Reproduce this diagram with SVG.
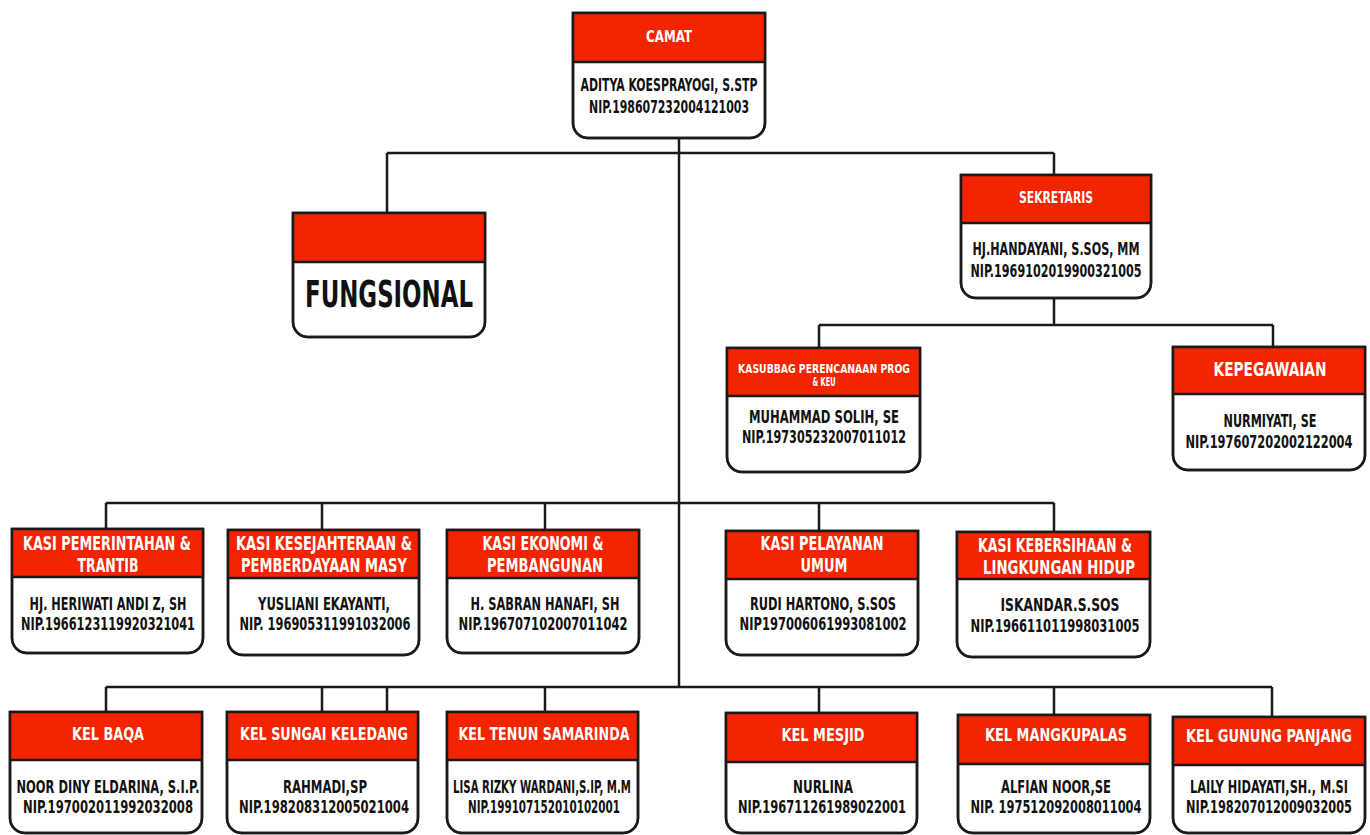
<svg xmlns="http://www.w3.org/2000/svg" width="1370" height="835" viewBox="0 0 1370 835">
<style>
.box{fill:#fff;stroke:#1a1a1a;stroke-width:2.5}
.out{fill:none;stroke:#1a1a1a;stroke-width:2.5}
.hdr{fill:#f42300}
.sep{stroke:#1a1a1a;stroke-width:2.5}
.con{fill:none;stroke:#1a1a1a;stroke-width:2.5}
text{font-family:'Liberation Sans Narrow','DejaVu Sans Condensed','Liberation Sans',sans-serif;font-weight:bold;text-anchor:middle}
.ht{fill:#fff}
.bt{fill:#111;font-size:17px}
</style>
<rect width="1370" height="835" fill="#fff"/>
<g id="connectors">
<path class="con" d="M679 138V687"/>
<path class="con" d="M387 153H1054M387 153V213M1054 153V175"/>
<path class="con" d="M1054 298V325M819 325H1273M819 325V348M1273 325V347"/>
<path class="con" d="M106 503H1054M106 503V529M322 503V530M545 503V530M819 503V531M1054 503V532"/>
<path class="con" d="M106 687H1272M106 687V712M322 687V712M387 687V712M545 687V712M819 687V713M1054 687V715M1272 687V717"/>
</g>
<g id="camat">
<path class="box" d="M573 13H765V123A15 15 0 0 1 750 138H588A15 15 0 0 1 573 123Z"/>
<rect class="hdr" x="573" y="13" width="192" height="49"/>
<path class="out" d="M573 13H765V123A15 15 0 0 1 750 138H588A15 15 0 0 1 573 123Z"/>
<line class="sep" x1="573" y1="62" x2="765" y2="62"/>
<text class="ht" x="669" y="42" font-size="15" textLength="46" lengthAdjust="spacingAndGlyphs">CAMAT</text>
<text class="bt" x="669" y="91" textLength="177" lengthAdjust="spacingAndGlyphs">ADITYA KOESPRAYOGI, S.STP</text>
<text class="bt" x="669" y="113" textLength="160" lengthAdjust="spacingAndGlyphs">NIP.198607232004121003</text>
</g>
<g id="fungsional">
<path class="box" d="M293 213H485V322A15 15 0 0 1 470 337H308A15 15 0 0 1 293 322Z"/>
<rect class="hdr" x="293" y="213" width="192" height="49"/>
<path class="out" d="M293 213H485V322A15 15 0 0 1 470 337H308A15 15 0 0 1 293 322Z"/>
<line class="sep" x1="293" y1="262" x2="485" y2="262"/>
<text x="389" y="307" fill="#111" font-size="38" textLength="168" lengthAdjust="spacingAndGlyphs">FUNGSIONAL</text>
</g>
<g id="sekretaris">
<path class="box" d="M961 175H1151V283A15 15 0 0 1 1136 298H976A15 15 0 0 1 961 283Z"/>
<rect class="hdr" x="961" y="175" width="190" height="48"/>
<path class="out" d="M961 175H1151V283A15 15 0 0 1 1136 298H976A15 15 0 0 1 961 283Z"/>
<line class="sep" x1="961" y1="223" x2="1151" y2="223"/>
<text class="ht" x="1056" y="203" font-size="15" textLength="74" lengthAdjust="spacingAndGlyphs">SEKRETARIS</text>
<text class="bt" x="1056" y="255" textLength="167" lengthAdjust="spacingAndGlyphs">HJ.HANDAYANI, S.SOS, MM</text>
<text class="bt" x="1056" y="277" textLength="171" lengthAdjust="spacingAndGlyphs">NIP.1969102019900321005</text>
</g>
<g id="kasubbag">
<path class="box" d="M727 348H920V457A15 15 0 0 1 905 472H742A15 15 0 0 1 727 457Z"/>
<rect class="hdr" x="727" y="348" width="193" height="48"/>
<path class="out" d="M727 348H920V457A15 15 0 0 1 905 472H742A15 15 0 0 1 727 457Z"/>
<line class="sep" x1="727" y1="396" x2="920" y2="396"/>
<text class="ht" x="824" y="373" font-size="12" textLength="172" lengthAdjust="spacingAndGlyphs">KASUBBAG PERENCANAAN PROG</text>
<text class="ht" x="824" y="386" font-size="12" textLength="23" lengthAdjust="spacingAndGlyphs">&amp; KEU</text>
<text class="bt" x="824" y="423" textLength="150" lengthAdjust="spacingAndGlyphs">MUHAMMAD SOLIH, SE</text>
<text class="bt" x="824" y="443" textLength="164" lengthAdjust="spacingAndGlyphs">NIP.197305232007011012</text>
</g>
<g id="kepegawaian">
<path class="box" d="M1173 347H1365V455A15 15 0 0 1 1350 470H1188A15 15 0 0 1 1173 455Z"/>
<rect class="hdr" x="1173" y="347" width="192" height="47"/>
<path class="out" d="M1173 347H1365V455A15 15 0 0 1 1350 470H1188A15 15 0 0 1 1173 455Z"/>
<line class="sep" x1="1173" y1="394" x2="1365" y2="394"/>
<text class="ht" x="1270" y="376" font-size="19" textLength="113" lengthAdjust="spacingAndGlyphs">KEPEGAWAIAN</text>
<text class="bt" x="1270" y="427" textLength="93" lengthAdjust="spacingAndGlyphs">NURMIYATI, SE</text>
<text class="bt" x="1269" y="448" textLength="167" lengthAdjust="spacingAndGlyphs">NIP.197607202002122004</text>
</g>
<g id="kasi-pemerintahan">
<path class="box" d="M12 529H203V638A15 15 0 0 1 188 653H27A15 15 0 0 1 12 638Z"/>
<rect class="hdr" x="12" y="529" width="191" height="48"/>
<path class="out" d="M12 529H203V638A15 15 0 0 1 188 653H27A15 15 0 0 1 12 638Z"/>
<line class="sep" x1="12" y1="577" x2="203" y2="577"/>
<text class="ht" x="107" y="550" font-size="19" textLength="168" lengthAdjust="spacingAndGlyphs">KASI PEMERINTAHAN &amp;</text>
<text class="ht" x="108" y="572" font-size="19" textLength="61" lengthAdjust="spacingAndGlyphs">TRANTIB</text>
<text class="bt" x="108" y="610" textLength="157" lengthAdjust="spacingAndGlyphs">HJ. HERIWATI ANDI Z, SH</text>
<text class="bt" x="108" y="630" textLength="174" lengthAdjust="spacingAndGlyphs">NIP.1966123119920321041</text>
</g>
<g id="kasi-kesejahteraan">
<path class="box" d="M228 530H419V640A15 15 0 0 1 404 655H243A15 15 0 0 1 228 640Z"/>
<rect class="hdr" x="228" y="530" width="191" height="48"/>
<path class="out" d="M228 530H419V640A15 15 0 0 1 404 655H243A15 15 0 0 1 228 640Z"/>
<line class="sep" x1="228" y1="578" x2="419" y2="578"/>
<text class="ht" x="324" y="550" font-size="19" textLength="176" lengthAdjust="spacingAndGlyphs">KASI KESEJAHTERAAN &amp;</text>
<text class="ht" x="324" y="572" font-size="19" textLength="166" lengthAdjust="spacingAndGlyphs">PEMBERDAYAAN MASY</text>
<text class="bt" x="324" y="610" textLength="132" lengthAdjust="spacingAndGlyphs">YUSLIANI EKAYANTI,</text>
<text class="bt" x="325" y="630" textLength="171" lengthAdjust="spacingAndGlyphs">NIP. 196905311991032006</text>
</g>
<g id="kasi-ekonomi">
<path class="box" d="M447 530H639V638A15 15 0 0 1 624 653H462A15 15 0 0 1 447 638Z"/>
<rect class="hdr" x="447" y="530" width="192" height="48"/>
<path class="out" d="M447 530H639V638A15 15 0 0 1 624 653H462A15 15 0 0 1 447 638Z"/>
<line class="sep" x1="447" y1="578" x2="639" y2="578"/>
<text class="ht" x="543" y="550" font-size="19" textLength="121" lengthAdjust="spacingAndGlyphs">KASI EKONOMI &amp;</text>
<text class="ht" x="545" y="572" font-size="19" textLength="116" lengthAdjust="spacingAndGlyphs">PEMBANGUNAN</text>
<text class="bt" x="545" y="610" textLength="149" lengthAdjust="spacingAndGlyphs">H. SABRAN HANAFI, SH</text>
<text class="bt" x="543" y="630" textLength="169" lengthAdjust="spacingAndGlyphs">NIP.196707102007011042</text>
</g>
<g id="kasi-pelayanan">
<path class="box" d="M726 531H918V640A15 15 0 0 1 903 655H741A15 15 0 0 1 726 640Z"/>
<rect class="hdr" x="726" y="531" width="192" height="48"/>
<path class="out" d="M726 531H918V640A15 15 0 0 1 903 655H741A15 15 0 0 1 726 640Z"/>
<line class="sep" x1="726" y1="579" x2="918" y2="579"/>
<text class="ht" x="822" y="550" font-size="19" textLength="123" lengthAdjust="spacingAndGlyphs">KASI PELAYANAN</text>
<text class="ht" x="824" y="572" font-size="19" textLength="47" lengthAdjust="spacingAndGlyphs">UMUM</text>
<text class="bt" x="823" y="610" textLength="146" lengthAdjust="spacingAndGlyphs">RUDI HARTONO, S.SOS</text>
<text class="bt" x="823" y="630" textLength="167" lengthAdjust="spacingAndGlyphs">NIP197006061993081002</text>
</g>
<g id="kasi-kebersihaan">
<path class="box" d="M957 532H1150V642A15 15 0 0 1 1135 657H972A15 15 0 0 1 957 642Z"/>
<rect class="hdr" x="957" y="532" width="193" height="47"/>
<path class="out" d="M957 532H1150V642A15 15 0 0 1 1135 657H972A15 15 0 0 1 957 642Z"/>
<line class="sep" x1="957" y1="579" x2="1150" y2="579"/>
<text class="ht" x="1055" y="552" font-size="19" textLength="154" lengthAdjust="spacingAndGlyphs">KASI KEBERSIHAAN &amp;</text>
<text class="ht" x="1059" y="574" font-size="19" textLength="152" lengthAdjust="spacingAndGlyphs">LINGKUNGAN HIDUP</text>
<text class="bt" x="1060" y="611" textLength="119" lengthAdjust="spacingAndGlyphs">ISKANDAR.S.SOS</text>
<text class="bt" x="1055" y="632" textLength="169" lengthAdjust="spacingAndGlyphs">NIP.196611011998031005</text>
</g>
<g id="kel-baqa">
<path class="box" d="M10 712H202V818A15 15 0 0 1 187 833H25A15 15 0 0 1 10 818Z"/>
<rect class="hdr" x="10" y="712" width="192" height="48"/>
<path class="out" d="M10 712H202V818A15 15 0 0 1 187 833H25A15 15 0 0 1 10 818Z"/>
<line class="sep" x1="10" y1="760" x2="202" y2="760"/>
<text class="ht" x="108" y="740" font-size="18" textLength="72" lengthAdjust="spacingAndGlyphs">KEL BAQA</text>
<text class="bt" x="108" y="793" textLength="183" lengthAdjust="spacingAndGlyphs">NOOR DINY ELDARINA, S.I.P.</text>
<text class="bt" x="108" y="813" textLength="170" lengthAdjust="spacingAndGlyphs">NIP.197002011992032008</text>
</g>
<g id="kel-sungai-keledang">
<path class="box" d="M227 712H418V818A15 15 0 0 1 403 833H242A15 15 0 0 1 227 818Z"/>
<rect class="hdr" x="227" y="712" width="191" height="48"/>
<path class="out" d="M227 712H418V818A15 15 0 0 1 403 833H242A15 15 0 0 1 227 818Z"/>
<line class="sep" x1="227" y1="760" x2="418" y2="760"/>
<text class="ht" x="324" y="740" font-size="18" textLength="168" lengthAdjust="spacingAndGlyphs">KEL SUNGAI KELEDANG</text>
<text class="bt" x="325" y="793" textLength="84" lengthAdjust="spacingAndGlyphs">RAHMADI,SP</text>
<text class="bt" x="324" y="813" textLength="170" lengthAdjust="spacingAndGlyphs">NIP.198208312005021004</text>
</g>
<g id="kel-tenun-samarinda">
<path class="box" d="M447 712H638V818A15 15 0 0 1 623 833H462A15 15 0 0 1 447 818Z"/>
<rect class="hdr" x="447" y="712" width="191" height="48"/>
<path class="out" d="M447 712H638V818A15 15 0 0 1 623 833H462A15 15 0 0 1 447 818Z"/>
<line class="sep" x1="447" y1="760" x2="638" y2="760"/>
<text class="ht" x="544" y="740" font-size="18" textLength="171" lengthAdjust="spacingAndGlyphs">KEL TENUN SAMARINDA</text>
<text class="bt" x="542" y="793" textLength="178" lengthAdjust="spacingAndGlyphs">LISA RIZKY WARDANI,S.IP, M.M</text>
<text class="bt" x="544" y="813" textLength="152" lengthAdjust="spacingAndGlyphs">NIP.199107152010102001</text>
</g>
<g id="kel-mesjid">
<path class="box" d="M726 713H917V818A15 15 0 0 1 902 833H741A15 15 0 0 1 726 818Z"/>
<rect class="hdr" x="726" y="713" width="191" height="49"/>
<path class="out" d="M726 713H917V818A15 15 0 0 1 902 833H741A15 15 0 0 1 726 818Z"/>
<line class="sep" x1="726" y1="762" x2="917" y2="762"/>
<text class="ht" x="823" y="741" font-size="18" textLength="83" lengthAdjust="spacingAndGlyphs">KEL MESJID</text>
<text class="bt" x="823" y="793" textLength="60" lengthAdjust="spacingAndGlyphs">NURLINA</text>
<text class="bt" x="822" y="813" textLength="168" lengthAdjust="spacingAndGlyphs">NIP.196711261989022001</text>
</g>
<g id="kel-mangkupalas">
<path class="box" d="M958 715H1150V818A15 15 0 0 1 1135 833H973A15 15 0 0 1 958 818Z"/>
<rect class="hdr" x="958" y="715" width="192" height="49"/>
<path class="out" d="M958 715H1150V818A15 15 0 0 1 1135 833H973A15 15 0 0 1 958 818Z"/>
<line class="sep" x1="958" y1="764" x2="1150" y2="764"/>
<text class="ht" x="1056" y="741" font-size="18" textLength="142" lengthAdjust="spacingAndGlyphs">KEL MANGKUPALAS</text>
<text class="bt" x="1056" y="793" textLength="110" lengthAdjust="spacingAndGlyphs">ALFIAN NOOR,SE</text>
<text class="bt" x="1056" y="813" textLength="171" lengthAdjust="spacingAndGlyphs">NIP. 197512092008011004</text>
</g>
<g id="kel-gunung-panjang">
<path class="box" d="M1173 717H1365V818A15 15 0 0 1 1350 833H1188A15 15 0 0 1 1173 818Z"/>
<rect class="hdr" x="1173" y="717" width="192" height="48"/>
<path class="out" d="M1173 717H1365V818A15 15 0 0 1 1350 833H1188A15 15 0 0 1 1173 818Z"/>
<line class="sep" x1="1173" y1="765" x2="1365" y2="765"/>
<text class="ht" x="1269" y="742" font-size="18" textLength="166" lengthAdjust="spacingAndGlyphs">KEL GUNUNG PANJANG</text>
<text class="bt" x="1269" y="793" textLength="158" lengthAdjust="spacingAndGlyphs">LAILY HIDAYATI,SH., M.SI</text>
<text class="bt" x="1269" y="813" textLength="166" lengthAdjust="spacingAndGlyphs">NIP.198207012009032005</text>
</g>
</svg>
